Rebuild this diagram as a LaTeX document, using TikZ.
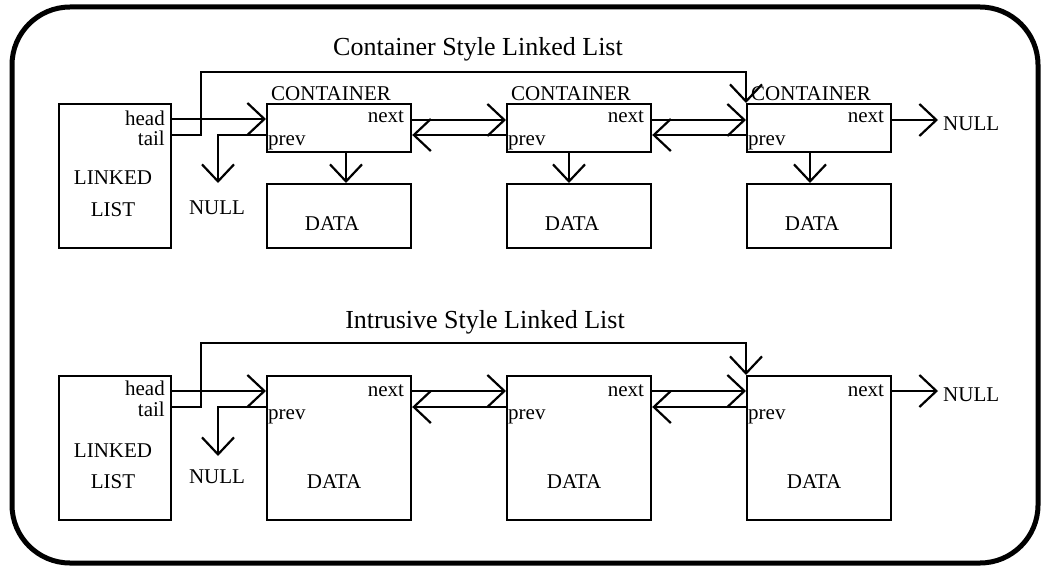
\documentclass[tikz,border=0pt]{standalone}
\usepackage{fontspec}
\setmainfont{Liberation Serif}
\usetikzlibrary{arrows.meta,calc}

\begin{document}
\begin{tikzpicture}[x=1pt,y=-1pt,
  box/.style={draw, line width=2.2pt, inner sep=0pt, anchor=north west},
  cbox/.style={box, minimum width=144pt, minimum height=48pt},
  dbox/.style={box, minimum width=144pt, minimum height=64pt},
  ibox/.style={box, minimum width=144pt, minimum height=144pt},
  lbox/.style={box, minimum width=112pt, minimum height=144pt},
  txt/.style={inner sep=0pt, font=\fontsize{21}{24}\selectfont},
  ttl/.style={inner sep=0pt, font=\fontsize{26}{30}\selectfont, anchor=base},
  link/.style={line width=2.2pt, -{Straight Barb[length=17pt,width=32pt]}},
]
\useasboundingbox (0,0) rectangle (1041,567);
\draw[line width=5pt, rounded corners=58pt] (12,7) rectangle (1038,563);

% ---------------- Container style ----------------
\node[ttl] (t1) at (478,56) {Container Style Linked List};

\node[lbox] (ll1) at (58,103) {};
\node[txt, anchor=base] (ll1a) at (113,184) {LINKED};
\node[txt, anchor=base] (ll1b) at (113,216) {LIST};
\node[txt, anchor=base east] (ll1h) at (165,126) {head};
\node[txt, anchor=base east] (ll1t) at (165,146) {tail};

\foreach \i/\x in {1/266, 2/506, 3/746} {
  \node[cbox] (c\i) at (\x,103) {};
  \node[dbox] (d\i) at (\x,183) {};
  \node[txt, anchor=base west] (c\i l) at ($(c\i.north west)+(5,-2)$) {CONTAINER};
  \node[txt, anchor=base east] (c\i n) at ($(c\i.north east)+(-8,20)$) {next};
  \node[txt, anchor=base west] (c\i p) at ($(c\i.north west)+(2,43)$) {prev};
  \node[txt, anchor=base] (d\i t) at ($(d\i.north)+(-7,47)$) {DATA};
}

% container -> data pointers
\draw[link] ($(c1.south west)+(80,0)$) -- ($(d1.north west)+(80,0)$);
\draw[link] ($(c2.south west)+(63,0)$) -- ($(d2.north west)+(63,0)$);
\draw[link] ($(c3.south west)+(64,0)$) -- ($(d3.north west)+(64,0)$);

% head / tail
\coordinate (tb1) at (201,72);
\draw[link] (ll1.east |- 0,119) -- (c1.west |- 0,119);
\draw[link] (ll1.east |- 0,135) -| (tb1) -| (c3.north west);

% next / prev links
\draw[link] (c1.east |- 0,120) -- (c2.west |- 0,120);
\draw[link] (c2.west |- 0,135) -- (c1.east |- 0,135);
\draw[link] (c2.east |- 0,120) -- (c3.west |- 0,120);
\draw[link] (c3.west |- 0,135) -- (c2.east |- 0,135);

% NULL ends
\coordinate (np1) at (218,183);
\coordinate (nn1) at (938,120);
\draw[link] (c1.west |- 0,135) -| (np1);
\draw[link] (c3.east |- 0,120) -- (nn1);
\node[txt, anchor=base] (np1t) at (217,214) {NULL};
\node[txt, anchor=base west] (nn1t) at (943,131) {NULL};

% ---------------- Intrusive style ----------------
\node[ttl] (t2) at (485,328) {Intrusive Style Linked List};

\node[lbox] (ll2) at (58,375) {};
\node[txt, anchor=base] (ll2a) at (113,457) {LINKED};
\node[txt, anchor=base] (ll2b) at (113,488) {LIST};
\node[txt, anchor=base east] (ll2h) at (165,395) {head};
\node[txt, anchor=base east] (ll2t) at (165,416) {tail};

\foreach \i/\x in {1/266, 2/506, 3/746} {
  \node[ibox] (e\i) at (\x,375) {};
  \node[txt, anchor=base east] (e\i n) at ($(e\i.north east)+(-8,21)$) {next};
  \node[txt, anchor=base west] (e\i p) at ($(e\i.north west)+(2,44)$) {prev};
  \node[txt, anchor=base] (e\i t) at ($(e\i.north)+(-5,113)$) {DATA};
}

% head / tail
\coordinate (tb2) at (201,343);
\draw[link] (ll2.east |- 0,391) -- (e1.west |- 0,391);
\draw[link] (ll2.east |- 0,407) -| (tb2) -| (e3.north west);

% next / prev links
\draw[link] (e1.east |- 0,391) -- (e2.west |- 0,391);
\draw[link] (e2.west |- 0,407) -- (e1.east |- 0,407);
\draw[link] (e2.east |- 0,391) -- (e3.west |- 0,391);
\draw[link] (e3.west |- 0,407) -- (e2.east |- 0,407);

% NULL ends
\coordinate (np2) at (218,456);
\coordinate (nn2) at (938,391);
\draw[link] (e1.west |- 0,407) -| (np2);
\draw[link] (e3.east |- 0,391) -- (nn2);
\node[txt, anchor=base] (np2t) at (217,483) {NULL};
\node[txt, anchor=base west] (nn2t) at (943,401) {NULL};
\end{tikzpicture}
\end{document}
